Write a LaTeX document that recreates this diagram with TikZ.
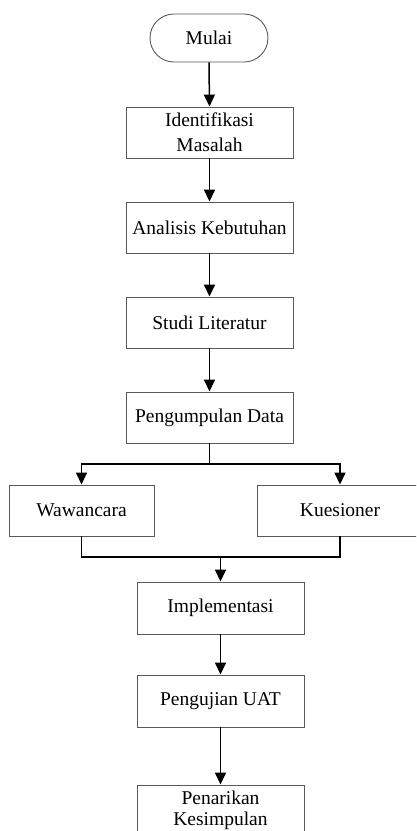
\documentclass[tikz,border=0pt]{standalone}
\usepackage{fontspec}
\setmainfont{Liberation Serif}
\usetikzlibrary{arrows.meta}
\begin{document}
\begin{tikzpicture}[x=1pt,y=-1pt,
  box/.style={draw=black!65,line width=0.9pt,rectangle,minimum width=167pt,minimum height=51pt,inner sep=0pt,align=center,font=\fontsize{19.5}{25}\selectfont},
  term/.style={box,rounded corners=24pt,minimum width=118pt,minimum height=48pt},
  conn/.style={line width=1.5pt,black},
  arr/.style={conn,-{Triangle[width=11pt,length=12pt]}}]
\useasboundingbox (0,0) rectangle (416,831);
\clip (0,0) rectangle (416,831);
\node[term] (mulai) at (209,38) {Mulai};
\node[box] (ident) at (209.5,132.5) {Identifikasi\\Masalah};
\node[box] (anal) at (209.5,227.5) {Analisis Kebutuhan};
\node[box] (studi) at (209.5,322.5) {Studi Literatur};
\node[box] (peng) at (209.5,417.5) {Pengumpulan Data};
\node[box,minimum width=145pt] (waw) at (81.5,510.5) {Wawancara};
\node[box,minimum width=166pt] (kues) at (340,510.5) {Kuesioner};
\node[box,minimum height=52pt] (impl) at (220.5,608) {Implementasi};
\node[box,minimum height=52pt] (uji) at (220.5,701) {Pengujian UAT};
\node[box,minimum height=50pt,font=\fontsize{19.5}{21}\selectfont] (tarik) at (220.5,810) {Penarikan\\Kesimpulan};
\coordinate (j1) at (209.5,464);
\coordinate (j2) at (220.5,557);
\draw[arr] (mulai.south) -- (ident.north);
\draw[arr] (ident.south) -- (anal.north);
\draw[arr] (anal.south) -- (studi.north);
\draw[arr] (studi.south) -- (peng.north);
\draw[conn] (peng.south) -- (j1);
\draw[arr] (j1) -| (waw.north);
\draw[arr] (j1) -| (kues.north);
\draw[conn] (waw.south) |- (j2);
\draw[conn] (kues.south) |- (j2);
\draw[arr] (j2) -- (impl.north);
\draw[arr] (impl.south) -- (uji.north);
\draw[arr] (uji.south) -- (tarik.north);
\end{tikzpicture}
\end{document}
